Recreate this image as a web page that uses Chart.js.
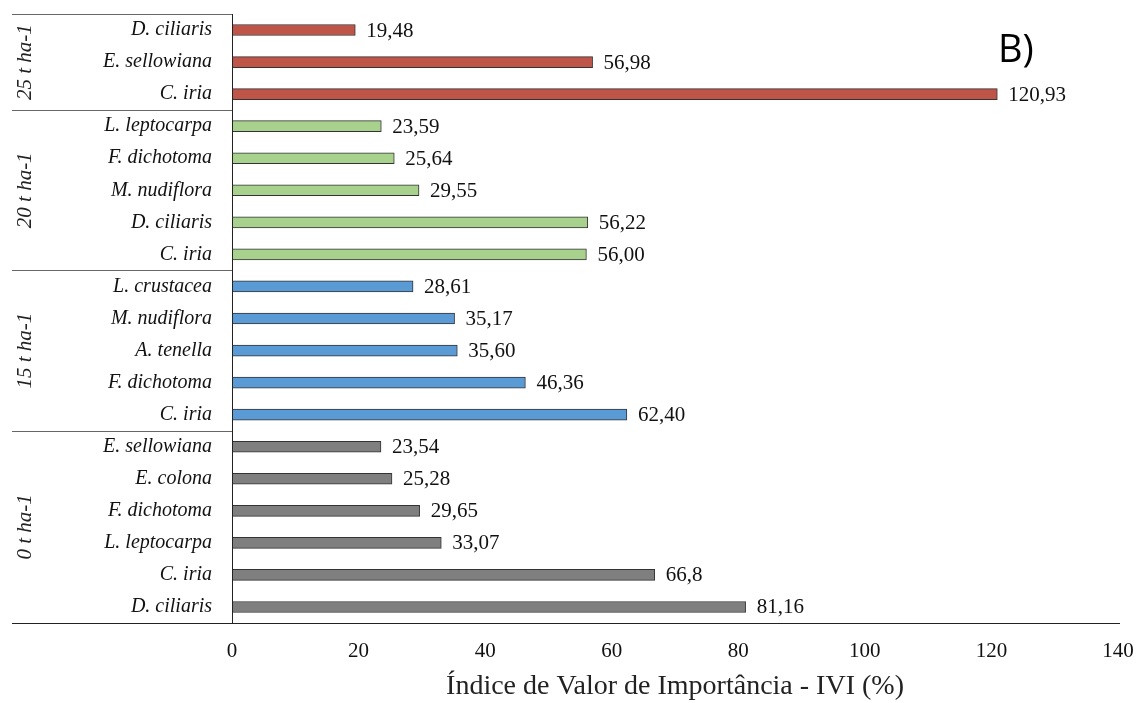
<!DOCTYPE html>
<html>
<head>
<meta charset="utf-8">
<script src="https://cdn.jsdelivr.net/npm/chart.js@4.4.1/dist/chart.umd.min.js"></script>
<style>
  html, body { margin: 0; padding: 0; background: #fff; }
  #wrap { width: 1144px; height: 703px; }
</style>
</head>
<body>
<div id="wrap"><canvas id="c" width="1144" height="703"></canvas></div>
<script>
// species, top to bottom
const species = ["D. ciliaris", "E. sellowiana", "C. iria",
  "L. leptocarpa", "F. dichotoma", "M. nudiflora", "D. ciliaris", "C. iria",
  "L. crustacea", "M. nudiflora", "A. tenella", "F. dichotoma", "C. iria",
  "E. sellowiana", "E. colona", "F. dichotoma", "L. leptocarpa", "C. iria", "D. ciliaris"];
const ivi = [19.48, 56.98, 120.93,
  23.59, 25.64, 29.55, 56.22, 56.00,
  28.61, 35.17, 35.60, 46.36, 62.40,
  23.54, 25.28, 29.65, 33.07, 66.8, 81.16];
const iviText = ["19,48", "56,98", "120,93",
  "23,59", "25,64", "29,55", "56,22", "56,00",
  "28,61", "35,17", "35,60", "46,36", "62,40",
  "23,54", "25,28", "29,65", "33,07", "66,8", "81,16"];
const groups = ["25 t ha-1", "20 t ha-1", "15 t ha-1", "0 t ha-1"];
const groupSize = [3, 5, 5, 6];
const groupColor = ["#BF5548", "#A9D18E", "#5B9BD5", "#7F7F7F"];
const xTicks = [0, 20, 40, 60, 80, 100, 120, 140];

const barColors = [];
groupSize.forEach((n, g) => { for (let i = 0; i < n; i++) barColors.push(groupColor[g]); });

const serif = '"Liberation Serif", "Times New Roman", serif';

const extras = {
  id: 'extras',
  afterDatasetsDraw(chart) {
    const ctx = chart.ctx, area = chart.chartArea, x = chart.scales.x;
    const meta = chart.getDatasetMeta(0);
    ctx.save();
    // value labels
    ctx.fillStyle = '#111';
    ctx.font = '21px ' + serif;
    ctx.textBaseline = 'middle';
    ctx.textAlign = 'left';
    meta.data.forEach((bar, i) => {
      ctx.fillText(iviText[i], bar.x + 11, bar.y + 1);
    });
    // lines
    ctx.strokeStyle = '#222';
    ctx.lineWidth = 1;
    const band = (area.bottom - area.top) / species.length;
    ctx.beginPath();
    ctx.moveTo(Math.round(area.left) + 0.5, area.top);
    ctx.lineTo(Math.round(area.left) + 0.5, area.bottom);
    ctx.moveTo(12, Math.round(area.bottom) + 0.5);
    ctx.lineTo(x.getPixelForValue(140) + 2, Math.round(area.bottom) + 0.5);
    ctx.stroke();
    ctx.strokeStyle = '#666';
    ctx.beginPath();
    ctx.moveTo(12, Math.round(area.top) + 0.5);
    ctx.lineTo(area.left, Math.round(area.top) + 0.5);
    let idx = 0;
    groupSize.forEach((n, g) => {
      idx += n;
      if (g < groupSize.length - 1) {
        const yy = Math.round(area.top + idx * band) + 0.5;
        ctx.moveTo(12, yy);
        ctx.lineTo(area.left, yy);
      }
    });
    ctx.stroke();
    // group labels
    ctx.fillStyle = '#222';
    ctx.font = 'italic 21px ' + serif;
    ctx.textAlign = 'center';
    idx = 0;
    groupSize.forEach((n, g) => {
      const cy = area.top + (idx + n / 2) * band;
      idx += n;
      ctx.save();
      ctx.translate(25, cy);
      ctx.rotate(-Math.PI / 2);
      ctx.fillText(groups[g], 0, 0);
      ctx.restore();
    });
    // panel letter
    ctx.fillStyle = '#000';
    ctx.font = '38px "Open Sans", "DejaVu Sans", sans-serif';
    ctx.textAlign = 'left';
    ctx.textBaseline = 'alphabetic';
    ctx.fillText('B)', 998, 62);
    ctx.restore();
  }
};

new Chart(document.getElementById('c'), {
  type: 'bar',
  data: {
    labels: species,
    datasets: [{
      data: ivi,
      backgroundColor: barColors,
      borderColor: '#333',
      borderWidth: 1,
      borderSkipped: false,
      barThickness: 11
    }]
  },
  options: {
    indexAxis: 'y',
    responsive: false,
    animation: false,
    layout: { padding: { top: 14, right: 26, left: 0, bottom: 0 } },
    plugins: { legend: { display: false }, tooltip: { enabled: false } },
    scales: {
      x: {
        min: 0, max: 140,
        afterBuildTicks(s) { s.ticks = xTicks.map(v => ({ value: v })); },
        afterFit(s) { s.height = 80; s.paddingLeft = 0; s.paddingRight = 0; },
        grid: { display: false, drawTicks: false },
        border: { display: false },
        ticks: { color: '#111', font: { family: serif, size: 21 }, padding: 16 },
        title: {
          display: true,
          text: 'Índice de Valor de Importância - IVI (%)',
          color: '#222',
          font: { family: serif, size: 28 },
          padding: { top: 6, bottom: 0 }
        }
      },
      y: {
        afterFit(s) { s.width = 232; s.paddingTop = 0; s.paddingBottom = 0; },
        grid: { display: false, drawTicks: false },
        border: { display: false },
        ticks: { color: '#111', font: { family: serif, size: 20, style: 'italic' }, padding: 20 }
      }
    }
  },
  plugins: [extras]
});
</script>
</body>
</html>
